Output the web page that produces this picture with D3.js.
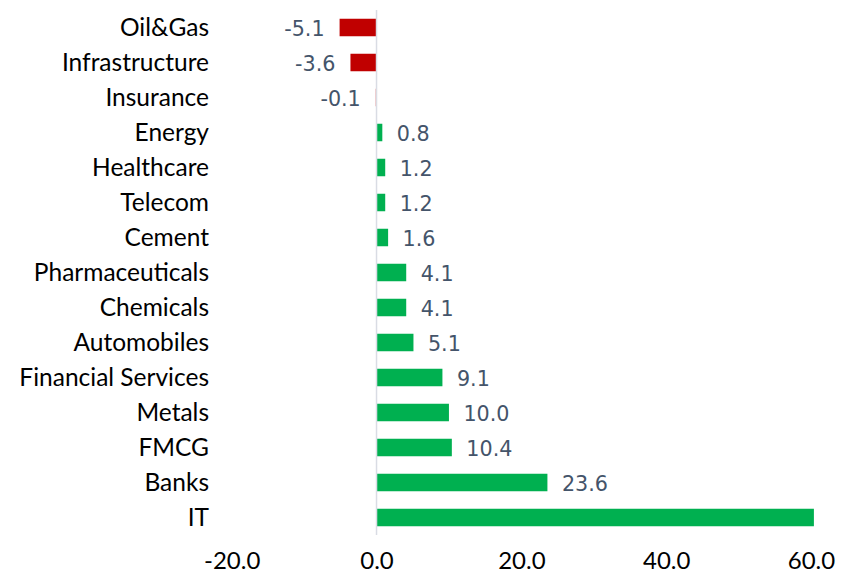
<!DOCTYPE html>
<html>
<head>
<meta charset="utf-8">
<script src="https://cdn.jsdelivr.net/npm/d3@7"></script>
<style>
html,body{margin:0;padding:0;background:#fff;}
svg{display:block;}
</style>
</head>
<body>
<svg id="chart" width="856" height="580"></svg>
<script>
const categories = ["Oil&Gas","Infrastructure","Insurance","Energy","Healthcare","Telecom","Cement","Pharmaceuticals","Chemicals","Automobiles","Financial Services","Metals","FMCG","Banks","IT"];
const values = [-5.1,-3.6,-0.1,0.8,1.2,1.2,1.6,4.1,4.1,5.1,9.1,10.0,10.4,23.6,60.4];
const tickValues = [-20,0,20,40,60];
const axisMin = -20, axisMax = 60;

const svg = d3.select("#chart");
const x = d3.scaleLinear().domain([axisMin, axisMax]).range([231.7, 811]);
const y = d3.scaleBand().domain(categories).range([10, 535]).paddingInner(0.5).paddingOuter(0.25);

const data = categories.map((c,i)=>({c, v: values[i]}));

// bars
svg.append("g").selectAll("rect").data(data).join("rect")
  .attr("x", d => x(Math.min(0, d.v)))
  .attr("y", d => y(d.c))
  .attr("width", d => Math.abs(x(d.v) - x(0)))
  .attr("height", y.bandwidth())
  .attr("fill", d => d.v < 0 ? "#c00000" : "#00b050");

// zero axis line
svg.append("line")
  .attr("x1", x(0)).attr("x2", x(0))
  .attr("y1", y.range()[0]).attr("y2", y.range()[1])
  .attr("stroke", "#d9dce4").attr("stroke-width", 1.5);

// category labels
svg.append("g").selectAll("text").data(data).join("text")
  .attr("x", 209)
  .attr("y", d => y(d.c) + y.bandwidth()/2)
  .attr("dy", "0.36em")
  .attr("text-anchor", "end")
  .attr("font-family", "Lato, 'Open Sans', sans-serif")
  .attr("font-size", 24.5)
  .attr("fill", "#000")
  .text(d => d.c);

// value labels (hidden when beyond axis max)
svg.append("g").selectAll("text").data(data.filter(d => d.v <= axisMax)).join("text")
  .attr("x", d => d.v < 0 ? x(d.v) - 15 : x(d.v) + 14.5)
  .attr("y", d => y(d.c) + y.bandwidth()/2)
  .attr("dy", "0.4em")
  .attr("text-anchor", d => d.v < 0 ? "end" : "start")
  .attr("font-family", "'DejaVu Sans', sans-serif")
  .attr("font-size", 20.7)
  .attr("fill", "#44546a")
  .text(d => d3.format(".1f")(d.v).replace("−","-"));

// x axis tick labels
const axis = d3.axisBottom(x).tickValues(tickValues).tickSize(0).tickPadding(0)
  .tickFormat(d => d3.format(".1f")(d).replace("−","-"));
const ag = svg.append("g").attr("transform", "translate(0,552)").call(axis);
ag.select(".domain").remove();
ag.selectAll("text")
  .attr("font-family", "Lato, 'Open Sans', sans-serif")
  .attr("font-size", 24)
  .attr("fill", "#000")
  .attr("dy", "0.71em")
  .attr("y", 0);
</script>
</body>
</html>
